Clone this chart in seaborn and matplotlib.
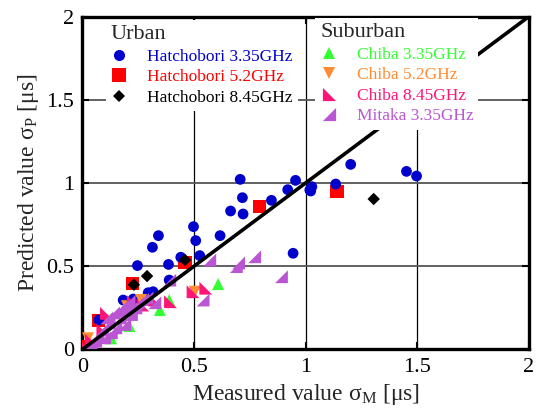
import matplotlib
matplotlib.use("Agg")
import matplotlib.pyplot as plt
import seaborn as sns
import pandas as pd
from matplotlib.lines import Line2D
from matplotlib.ticker import FixedLocator, FuncFormatter

# ---------------- data ----------------
h335_x = [0.074, 0.183, 0.228, 0.295, 0.317, 0.247, 0.314, 0.341, 0.386, 0.389, 0.441, 0.498,
          0.508, 0.526, 0.617, 0.664, 0.707, 0.717, 0.720, 0.847, 0.920, 0.944, 0.955, 1.019,
          1.023, 1.028, 1.135, 1.202, 1.452, 1.497]
h335_y = [0.177, 0.297, 0.303, 0.341, 0.347, 0.504, 0.614, 0.684, 0.511, 0.417, 0.554, 0.738,
          0.654, 0.564, 0.684, 0.832, 1.022, 0.912, 0.814, 0.896, 0.960, 0.578, 1.016, 0.958,
          0.952, 0.978, 0.994, 1.112, 1.070, 1.042]
h52_x = [0.004, 0.072, 0.223, 0.460, 0.795, 1.141]
h52_y = [0.017, 0.172, 0.397, 0.521, 0.858, 0.948]
h845_x = [0.231, 0.290, 0.460, 1.305]
h845_y = [0.389, 0.441, 0.538, 0.904]
c335_x = [0.040, 0.129, 0.211, 0.347, 0.389, 0.608]
c335_y = [0.030, 0.067, 0.141, 0.237, 0.297, 0.393]
c52_x = [0.025, 0.200, 0.263, 0.504]
c52_y = [0.067, 0.260, 0.297, 0.347]
c845_x = [0.020, 0.040, 0.092, 0.108, 0.228, 0.271, 0.323, 0.395, 0.496, 0.553]
c845_y = [0.015, 0.057, 0.117, 0.217, 0.287, 0.267, 0.297, 0.287, 0.347, 0.368]
m335_x = [0.020, 0.040, 0.060, 0.070, 0.090, 0.100, 0.120, 0.130, 0.140, 0.150, 0.170, 0.180,
          0.190, 0.210, 0.220, 0.240, 0.270, 0.290, 0.325, 0.392, 0.541, 0.571, 0.690, 0.700,
          0.772, 0.892, 0.110, 0.160, 0.200, 0.250]
m335_y = [0.010, 0.040, 0.050, 0.090, 0.120, 0.070, 0.160, 0.100, 0.220, 0.130, 0.190, 0.260,
          0.150, 0.290, 0.210, 0.250, 0.300, 0.310, 0.281, 0.417, 0.297, 0.538, 0.498, 0.520,
          0.557, 0.437, 0.190, 0.230, 0.250, 0.280]

ticks = [0, 0.5, 1, 1.5, 2]
tick_labels = ["0", "0.5", "1", "1.5", "2"]

# ---------------- style ----------------
sns.set_style("ticks")
plt.rcParams["font.family"] = ["Liberation Serif", "DejaVu Serif"]
plt.rcParams["mathtext.fontset"] = "custom"
plt.rcParams["mathtext.rm"] = "Liberation Serif"
plt.rcParams["mathtext.it"] = "Liberation Serif:italic"

BLUE = "#0000CD"
RED = "#FF0000"
BLACK = "#000000"
GREEN = "#33FF33"
ORANGE = "#FF8C33"
PINK = "#FF1478"
PURPLE = "#BA55D3"

TRI_LL = [(-1, -1), (-1, 1), (1, -1), (-1, -1)]   # right angle bottom-left
TRI_LR = [(-1, -1), (1, 1), (1, -1), (-1, -1)]    # right angle bottom-right

series = [
    ("Hatchobori 5.2GHz", h52_x, h52_y, RED, "s", 90),
    ("Hatchobori 3.35GHz", h335_x, h335_y, BLUE, "o", 60),
    ("Hatchobori 8.45GHz", h845_x, h845_y, BLACK, "D", 40),
    ("Chiba 3.35GHz", c335_x, c335_y, GREEN, "^", 75),
    ("Chiba 5.2GHz", c52_x, c52_y, ORANGE, "v", 75),
    ("Chiba 8.45GHz", c845_x, c845_y, PINK, TRI_LL, 85),
    ("Mitaka 3.35GHz", m335_x, m335_y, PURPLE, TRI_LR, 85),
]

fig = plt.figure(figsize=(5.38, 4.09), dpi=100)
ax = fig.add_axes([0.153, 0.1455, 0.830, 0.814])

for name, xs, ys, col, mk, sz in series:
    df = pd.DataFrame({"x": xs, "y": ys})
    sns.scatterplot(data=df, x="x", y="y", ax=ax, color=col, marker=mk, s=sz,
                    linewidth=0, edgecolor="none", legend=False, zorder=3)

line_df = pd.DataFrame({"x": [0, 2], "y": [0, 2]})
sns.lineplot(data=line_df, x="x", y="y", ax=ax, color="black", lw=2.6, zorder=4)

ax.set_xlim(0, 2)
ax.set_ylim(0, 2)
ax.xaxis.set_major_locator(FixedLocator(ticks))
ax.yaxis.set_major_locator(FixedLocator(ticks))
fmt = FuncFormatter(lambda v, p: tick_labels[ticks.index(v)] if v in ticks else "")
ax.xaxis.set_major_formatter(fmt)
ax.yaxis.set_major_formatter(fmt)
ax.tick_params(direction="in", length=5, width=1.5, top=True, right=True,
               labelsize=16, colors="black", pad=6)
ax.xaxis.grid(True, color="black", lw=0.9, zorder=1)
ax.yaxis.grid(True, color="#555555", lw=1.3, zorder=1)
ax.set_axisbelow(True)
for sp in ax.spines.values():
    sp.set_linewidth(2.4)
    sp.set_color("black")

ax.set_xlabel(r"Measured value $\mathrm{σ}_{\mathrm{M}}$ [μs]", fontsize=17, labelpad=4)
ax.set_ylabel(r"Predicted value $\mathrm{σ}_{\mathrm{P}}$ [μs]", fontsize=17, labelpad=4)


def handle(col, mk, ms):
    return Line2D([], [], ls="none", marker=mk, color=col, markersize=ms, markeredgewidth=0)


urban = [("Hatchobori 3.35GHz", BLUE, "o", 8), ("Hatchobori 5.2GHz", RED, "s", 9.5),
         ("Hatchobori 8.45GHz", BLACK, "D", 6.5)]
suburban = [("Chiba 3.35GHz", GREEN, "^", 9), ("Chiba 5.2GHz", ORANGE, "v", 9),
            ("Chiba 8.45GHz", PINK, TRI_LL, 9.5), ("Mitaka 3.35GHz", PURPLE, TRI_LR, 9.5)]

common = dict(loc="upper left", fontsize=12.5, title_fontsize=16, frameon=True,
              facecolor="white", edgecolor="none", framealpha=1, fancybox=False,
              handlelength=1.0, handletextpad=1.1, labelspacing=0.25, borderpad=0.3,
              borderaxespad=0, alignment="left")

leg1 = ax.legend([handle(c, m, s) for _, c, m, s in urban], [n for n, *_ in urban],
                 title="Urban", bbox_to_anchor=(0.052, 0.99), **common)
for t, (_, c, _, _) in zip(leg1.get_texts(), urban):
    t.set_color(c)
leg1.set_zorder(10)
ax.add_artist(leg1)

leg2 = ax.legend([handle(c, m, s) for _, c, m, s in suburban], [n for n, *_ in suburban],
                 title="Suburban", bbox_to_anchor=(0.521, 0.995), **common)
for t, (_, c, _, _) in zip(leg2.get_texts(), suburban):
    t.set_color(c)
leg2.set_zorder(10)

fig.savefig("out.png", dpi=100)
